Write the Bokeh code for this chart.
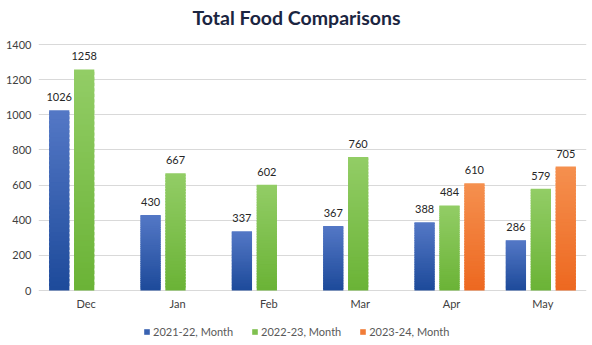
import numpy as np
from bokeh.plotting import figure
from bokeh.models import ColumnDataSource, FactorRange, Legend, LegendItem, Range1d, FixedTicker, Label
from bokeh.transform import dodge
from bokeh.core.properties import value
from bokeh.embed import file_html
from bokeh.resources import INLINE

# ---- data ----
title_text = "Total Food Comparisons"
months = ["Dec", "Jan", "Feb", "Mar", "Apr", "May"]
series_names = ["2021-22, Month", "2022-23, Month", "2023-24, Month"]
s_2021_22 = [1026, 430, 337, 367, 388, 286]
s_2022_23 = [1258, 667, 602, 760, 484, 579]
s_2023_24 = [None, None, None, None, 610, 705]
y_ticks = [0, 200, 400, 600, 800, 1000, 1200, 1400]

series_values = [s_2021_22, s_2022_23, s_2023_24]
top_colors = ["#5478C6", "#93CD66", "#F5904F"]
bottom_colors = ["#1D4A9A", "#6AB336", "#ED6820"]
offsets = [-0.273, 0.0, 0.273]
bar_width = 0.222
FONT = "Lato"
N = 40

# layout (pixels)
H = 345
ZERO_PX = 290          # zero line, from canvas top
AXIS_PX = 246          # pixels from 0 to 1400
Y_MAX = 1400
PX = Y_MAX / AXIS_PX   # data units per pixel
Y_TOP = ZERO_PX * PX
Y_BOT = -(H - ZERO_PX) * PX


def hex2rgb(h):
    h = h.lstrip("#")
    return np.array([int(h[i:i + 2], 16) for i in (0, 2, 4)], dtype=float)


def lerp_hex(a, b, t):
    c = hex2rgb(a) * (1 - t) + hex2rgb(b) * t
    return "#%02x%02x%02x" % tuple(int(round(x)) for x in c)


p = figure(
    x_range=FactorRange(factors=months, range_padding=0),
    y_range=Range1d(Y_BOT, Y_TOP),
    frame_width=548, frame_height=H,
    x_axis_location=None,
    output_backend="svg", toolbar_location=None,
    min_border_left=38, min_border_right=6, min_border_top=0, min_border_bottom=0,
    background_fill_color="white", border_fill_color="white",
    outline_line_color=None,
)

legend_items = []
for si, (name, vals) in enumerate(zip(series_names, series_values)):
    xs, bottoms, tops, colors = [], [], [], []
    for m, v in zip(months, vals):
        if v is None:
            continue
        for k in range(N):
            xs.append(m)
            bottoms.append(v * k / N)
            tops.append(v * min(k + 1.6, N) / N)
            colors.append(lerp_hex(bottom_colors[si], top_colors[si], (k + 0.5) / N))
    src = ColumnDataSource(dict(x=xs, bottom=bottoms, top=tops, color=colors))
    r = p.vbar(x=dodge("x", offsets[si], range=p.x_range), bottom="bottom", top="top",
               width=bar_width, fill_color="color", line_color=None, source=src)
    legend_items.append(LegendItem(label=name, renderers=[r], index=N // 2))

    lx = [m for m, v in zip(months, vals) if v is not None]
    lv = [v for v in vals if v is not None]
    lsrc = ColumnDataSource(dict(x=lx, y=lv, t=[str(v) for v in lv]))
    p.text(x=dodge("x", offsets[si], range=p.x_range), y="y", text="t", source=lsrc,
           text_align="center", text_baseline="bottom", y_offset=-9,
           text_font=value(FONT), text_font_size="11px", text_color="#262626")

# category labels under the zero line
p.text(x=months, y=[0] * len(months), text=months, x_offset=2, y_offset=13,
       text_align="center", text_baseline="middle",
       text_font=value(FONT), text_font_size="11px", text_color="#404040")

legend = Legend(items=legend_items, orientation="horizontal", location=(105, 7),
                glyph_width=7, glyph_height=7, label_height=12, label_text_font=FONT,
                label_text_font_size="11px", label_text_color="#595959",
                label_standoff=3, spacing=18, border_line_color=None,
                background_fill_alpha=0, margin=0, padding=4)
p.add_layout(legend)

title = Label(x=len(months) / 2, y=Y_TOP - 17 * PX, x_offset=-16, text=title_text,
              text_align="center", text_baseline="middle", text_font=FONT,
              text_font_size="19.5px", text_font_style="bold", text_color="#1B2541")
p.add_layout(title)

p.yaxis.ticker = FixedTicker(ticks=y_ticks)
p.xgrid.grid_line_color = None
p.ygrid.grid_line_color = "#D9D9D9"
p.yaxis.axis_line_color = None
p.yaxis.major_tick_line_color = None
p.yaxis.minor_tick_line_color = None
p.yaxis.major_label_text_font = FONT
p.yaxis.major_label_text_font_size = "11px"
p.yaxis.major_label_text_color = "#404040"
p.yaxis.major_label_standoff = 1

open("out.html", "w").write(file_html(p, INLINE))
